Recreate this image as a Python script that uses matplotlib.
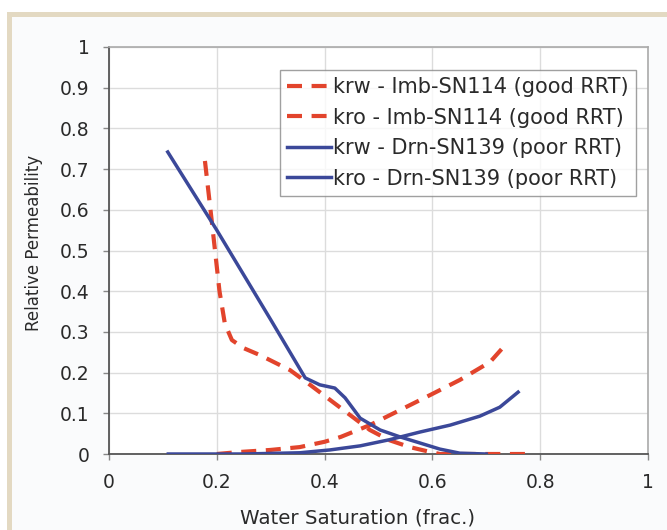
import matplotlib
matplotlib.use("Agg")
import matplotlib.pyplot as plt
from matplotlib.patches import Rectangle

plt.rcParams['font.family'] = ['DejaVu Sans']

# Imbibition SN114 (good RRT)
imb_krw_sw = [0.20, 0.243, 0.30, 0.354, 0.40, 0.43, 0.484, 0.54, 0.596, 0.651, 0.707, 0.74]
imb_krw = [0.0, 0.005, 0.010, 0.017, 0.030, 0.042, 0.071, 0.108, 0.145, 0.182, 0.226, 0.275]
imb_kro_sw = [0.178, 0.19, 0.205, 0.215, 0.228, 0.25, 0.28, 0.336, 0.373, 0.41, 0.447, 0.484,
              0.52, 0.558, 0.596, 0.614, 0.70, 0.78]
imb_kro = [0.72, 0.58, 0.40, 0.32, 0.28, 0.26, 0.243, 0.206, 0.17, 0.133, 0.096, 0.059,
           0.034, 0.017, 0.005, 0.0, 0.0, 0.0]

# Drainage SN139 (poor RRT)
drn_krw_sw = [0.11, 0.25, 0.354, 0.41, 0.466, 0.52, 0.577, 0.633, 0.688, 0.725, 0.759]
drn_krw = [0.0, 0.0, 0.003, 0.010, 0.020, 0.035, 0.054, 0.071, 0.093, 0.115, 0.152]
drn_kro_sw = [0.109, 0.20, 0.30, 0.364, 0.391, 0.419, 0.438, 0.466, 0.503, 0.54, 0.577,
              0.614, 0.651, 0.70]
drn_kro = [0.742, 0.55, 0.33, 0.187, 0.170, 0.162, 0.138, 0.088, 0.059, 0.042, 0.027,
           0.012, 0.002, 0.0]

labels = ["krw - Imb-SN114 (good RRT)", "kro - Imb-SN114 (good RRT)",
          "krw - Drn-SN139 (poor RRT)", "kro - Drn-SN139 (poor RRT)"]
x_ticks = [0, 0.2, 0.4, 0.6, 0.8, 1]
x_ticklabels = ["0", "0.2", "0.4", "0.6", "0.8", "1"]
y_ticks = [0, 0.1, 0.2, 0.3, 0.4, 0.5, 0.6, 0.7, 0.8, 0.9, 1]
y_ticklabels = ["0", "0.1", "0.2", "0.3", "0.4", "0.5", "0.6", "0.7", "0.8", "0.9", "1"]

W, H = 667, 530
fig = plt.figure(figsize=(W / 100, H / 100), dpi=100, facecolor='white')

# beige frame (top and left)
fig.patches.append(Rectangle((7 / W, 0), 1 - 7 / W, 1 - 12 / H, transform=fig.transFigure,
                             facecolor='#e3d9c2', edgecolor='none', zorder=-2))
fig.patches.append(Rectangle((12 / W, 0), 1 - 12 / W, 1 - 17 / H, transform=fig.transFigure,
                             facecolor='#fafbfc', edgecolor='none', zorder=-1))

x0, x1, y0, y1 = 109, 648, 454, 47
ax = fig.add_axes([x0 / W, 1 - y0 / H, (x1 - x0) / W, (y0 - y1) / H])
ax.set_zorder(1)
ax.set_facecolor('white')

red = '#e2442c'
blue = '#3b4899'
ax.plot(imb_krw_sw, imb_krw, color=red, lw=3.0, dashes=(3.6, 2.3), label=labels[0], zorder=3)
ax.plot(imb_kro_sw, imb_kro, color=red, lw=3.0, dashes=(3.6, 2.3), label=labels[1], zorder=3)
ax.plot(drn_krw_sw, drn_krw, color=blue, lw=2.5, label=labels[2], zorder=4)
ax.plot(drn_kro_sw, drn_kro, color=blue, lw=2.5, label=labels[3], zorder=4)

ax.set_xlim(0, 1)
ax.set_ylim(0, 1)
ax.set_xticks(x_ticks)
ax.set_xticklabels(x_ticklabels)
ax.set_yticks(y_ticks)
ax.set_yticklabels(y_ticklabels)
ax.grid(True, color='#dcdcdc', lw=1.0)
ax.set_axisbelow(True)
ax.tick_params(axis='both', labelsize=13.5, labelcolor='#2a2a2a', length=4, width=1.0,
               direction='out', color='#888888')
ax.tick_params(axis='x', pad=10)
ax.tick_params(axis='y', pad=10)

for s in ['left', 'bottom']:
    ax.spines[s].set_color('#555555')
    ax.spines[s].set_linewidth(1.3)
for s in ['top', 'right']:
    ax.spines[s].set_color('#aaaaaa')
    ax.spines[s].set_linewidth(1.2)

ax.set_xlabel("Water Saturation (frac.)", fontsize=14.3, color='#2a2a2a')
ax.xaxis.set_label_coords((358 - x0) / (x1 - x0), (y0 - 509) / (y0 - y1))
ax.set_ylabel("Relative Permeability", fontsize=12, color='#2a2a2a')
ax.yaxis.set_label_coords((43 - x0) / (x1 - x0), (y0 - 243) / (y0 - y1))

leg = ax.legend(loc='upper right', bbox_to_anchor=((636 - x0) / (x1 - x0), (y0 - 70) / (y0 - y1)),
                fontsize=15, frameon=True, fancybox=False, handlelength=2.1,
                handletextpad=0.1, borderpad=0.35, labelspacing=0.5, borderaxespad=0)
leg.get_frame().set_edgecolor('#888888')
leg.get_frame().set_linewidth(1.0)
for t in leg.get_texts():
    t.set_color('#2a2a2a')

fig.savefig('out.png', dpi=100, facecolor=fig.get_facecolor())
